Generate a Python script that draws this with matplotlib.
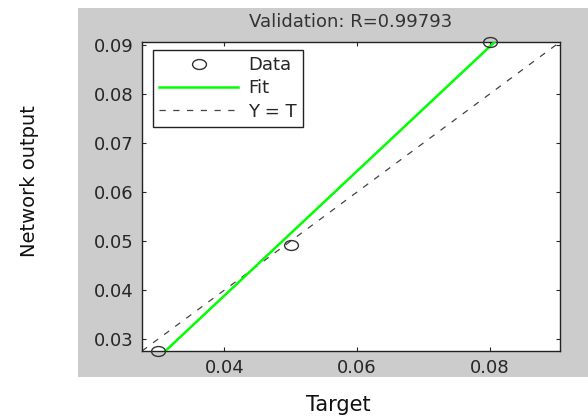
import numpy as np
import matplotlib
matplotlib.use("Agg")
import matplotlib.pyplot as plt
from matplotlib.path import Path
from matplotlib.transforms import Affine2D
from matplotlib.patches import Rectangle

# Data
targets = [0.030, 0.050, 0.080]
outputs = [0.0276, 0.0492, 0.0906]
r_value = 0.99793
title_text = "Validation: R=%.5f" % r_value
xticks = [0.04, 0.06, 0.08]
yticks = [0.03, 0.04, 0.05, 0.06, 0.07, 0.08, 0.09]

t = np.array(targets)
o = np.array(outputs)
lo = min(t.min(), o.min())
hi = max(t.max(), o.max())
slope, intercept = np.polyfit(t, o, 1)

fig = plt.figure(figsize=(5.88, 4.17), dpi=100)
fig.patch.set_facecolor("white")
fig.patches.append(Rectangle((78 / 588, 40 / 417), 510 / 588, 369 / 417,
                             transform=fig.transFigure, facecolor="#cccccc",
                             edgecolor="none", zorder=-10))

ax = fig.add_axes([142 / 588, 66 / 417, 418 / 588, 309 / 417])
ax.set_zorder(5)
ax.set_facecolor("white")

ell = Affine2D().scale(1.4, 1.0).transform_path(Path.unit_circle())

ax.plot(t, o, linestyle="none", marker=ell, markersize=10,
        markerfacecolor="none", markeredgecolor="#333333", markeredgewidth=1.0,
        label="Data", zorder=4, clip_on=False)
xs = np.array([lo, hi])
ax.plot(xs, slope * xs + intercept, color="#00ff00", lw=1.8, label="Fit", zorder=3)
ax.plot(xs, xs, color="#444444", lw=0.9, linestyle=(0, (5, 6)), label="Y = T", zorder=2)

ax.set_xlim(lo, hi)
ax.set_ylim(lo, hi)
ax.set_xticks(xticks)
ax.set_yticks(yticks)
ax.set_xticklabels(["%.2f" % v for v in xticks])
ax.set_yticklabels(["%.2f" % v for v in yticks])
ax.tick_params(direction="in", length=3, width=0.8, top=True, right=True,
               labelsize=13, labelcolor="#262626", pad=6, colors="#262626")
for s in ax.spines.values():
    s.set_color("#222222")
    s.set_linewidth(1.0)

ax.set_title(title_text, fontsize=13, color="#333333", pad=11)

leg = ax.legend(loc="upper left", bbox_to_anchor=(11 / 418, 301 / 309),
                borderaxespad=0, fontsize=13, numpoints=1, handlelength=4.4,
                handletextpad=0.55, borderpad=0.33, labelspacing=0.3,
                fancybox=False, framealpha=1, edgecolor="#222222")
leg.get_frame().set_linewidth(1.0)
for txt in leg.get_texts():
    txt.set_color("#262626")

fig.text(338 / 588, 1 - 405 / 417, "Target", fontsize=15, color="#111111",
         ha="center", va="center")
fig.text(30 / 588, 1 - 181 / 417, "Network output", fontsize=14, color="#111111",
         ha="center", va="center", rotation=90)

fig.savefig("out.png", dpi=100, facecolor=fig.get_facecolor())
